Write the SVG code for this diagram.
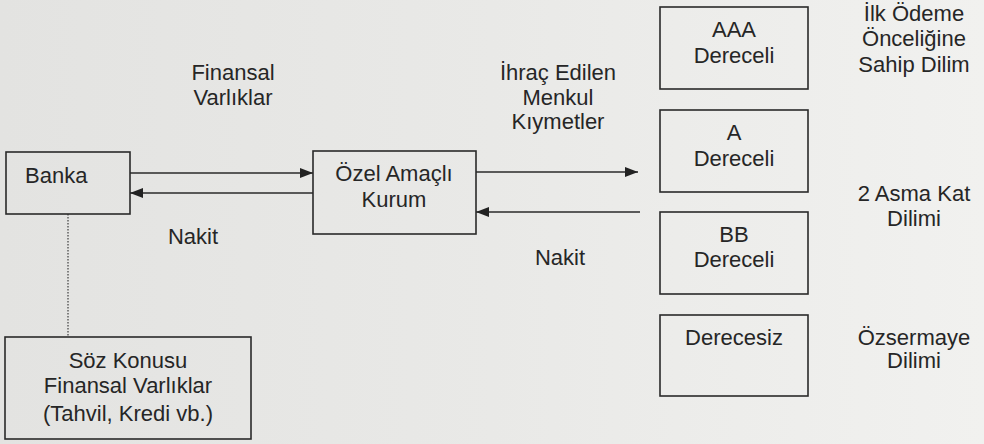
<svg xmlns="http://www.w3.org/2000/svg" width="984" height="444" viewBox="0 0 984 444">
<defs>
<linearGradient id="bg" x1="0" y1="0" x2="1" y2="0">
<stop offset="0" stop-color="#e3e3e1"/>
<stop offset="0.5" stop-color="#e9e9e7"/>
<stop offset="1" stop-color="#f1f1ef"/>
</linearGradient>
<marker id="ah" viewBox="0 0 13 10" refX="13" refY="5" markerWidth="13" markerHeight="10" markerUnits="userSpaceOnUse" orient="auto">
<path d="M0,0 L13,5 L0,10 Z" fill="#222"/>
</marker>
<style>
text{font-family:"Liberation Sans",Arial,sans-serif;font-size:22px;fill:#262626;text-anchor:middle}
.box{fill:none;stroke:#2a2a2a;stroke-width:1.6}
.conn{stroke:#2a2a2a;stroke-width:1.6;fill:none}
.dot{stroke:#555;stroke-width:1.4;stroke-dasharray:1.5 1.5;fill:none}
</style>
</defs>
<rect width="984" height="444" fill="url(#bg)"/>
<g id="connectors">
<line class="conn" x1="130" y1="173" x2="313" y2="173" marker-end="url(#ah)"/>
<line class="conn" x1="313" y1="193" x2="130" y2="193" marker-end="url(#ah)"/>
<line class="conn" x1="476" y1="172" x2="638" y2="172" marker-end="url(#ah)"/>
<line class="conn" x1="640" y1="212" x2="476" y2="212" marker-end="url(#ah)"/>
<line class="dot" x1="68" y1="214" x2="68" y2="337"/>
<text x="233" y="80">Finansal</text>
<text x="233" y="105">Varlıklar</text>
<text x="193" y="244">Nakit</text>
<text x="558" y="80">İhraç Edilen</text>
<text x="558" y="105">Menkul</text>
<text x="558" y="129">Kıymetler</text>
<text x="560" y="265">Nakit</text>
</g>
<g id="banka">
<rect class="box" x="6" y="152" width="124" height="62"/>
<text x="25" y="183" style="text-anchor:start">Banka</text>
</g>
<g id="ozel">
<rect class="box" x="313" y="151" width="163" height="83"/>
<text x="394" y="181">Özel Amaçlı</text>
<text x="394" y="207">Kurum</text>
</g>
<g id="soz">
<rect class="box" x="5" y="337" width="246" height="102"/>
<text x="128" y="368">Söz Konusu</text>
<text x="128" y="393">Finansal Varlıklar</text>
<text x="128" y="421">(Tahvil, Kredi vb.)</text>
</g>
<g id="aaa">
<rect class="box" x="660" y="7" width="148" height="82"/>
<text x="734" y="37">AAA</text>
<text x="734" y="63">Dereceli</text>
</g>
<g id="a">
<rect class="box" x="660" y="110" width="148" height="82"/>
<text x="734" y="140">A</text>
<text x="734" y="166">Dereceli</text>
</g>
<g id="bb">
<rect class="box" x="660" y="212" width="148" height="82"/>
<text x="734" y="242">BB</text>
<text x="734" y="267">Dereceli</text>
</g>
<g id="derecesiz">
<rect class="box" x="660" y="315" width="148" height="81"/>
<text x="734" y="345">Derecesiz</text>
</g>
<g id="labels">
<text x="914" y="21">İlk Ödeme</text>
<text x="914" y="46">Önceliğine</text>
<text x="914" y="72">Sahip Dilim</text>
<text x="914" y="201">2 Asma Kat</text>
<text x="914" y="226">Dilimi</text>
<text x="914" y="345">Özsermaye</text>
<text x="914" y="368">Dilimi</text>
</g>
</svg>
